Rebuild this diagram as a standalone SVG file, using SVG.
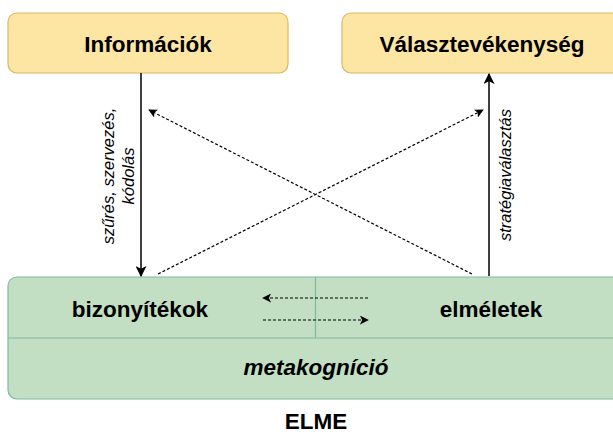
<svg xmlns="http://www.w3.org/2000/svg" width="613" height="434" viewBox="0 0 613 434">
<defs>
<style>
.yb{fill:#fde6a3;stroke:#deb65e;stroke-width:1.2}
.gb{fill:#c3dfc3;stroke:#7fb9a2;stroke-width:1.2}
.t{font-family:"Liberation Sans",Arial,sans-serif;font-weight:bold;font-size:22.5px;fill:#000;text-anchor:middle}
.i{font-family:"Liberation Sans",Arial,sans-serif;font-style:italic;font-size:16.5px;fill:#000;text-anchor:middle}
.s{stroke:#000;stroke-width:1.5;fill:none}
.d{stroke:#000;stroke-width:1.2;fill:none;stroke-dasharray:3 2}
</style>
<marker id="ah" viewBox="0 0 10 10" refX="9" refY="5" markerWidth="9" markerHeight="9" markerUnits="userSpaceOnUse" orient="auto"><path d="M0,0 L10,5 L0,10 L2.5,5 Z" fill="#000"/></marker>
<marker id="ah2" viewBox="0 0 10 10" refX="9" refY="5" markerWidth="11" markerHeight="11" markerUnits="userSpaceOnUse" orient="auto"><path d="M0,0 L10,5 L0,10 L2.5,5 Z" fill="#000"/></marker>
</defs>
<g id="informaciok">
<rect class="yb" x="8" y="13" width="280" height="60" rx="9"/>
<text class="t" x="148" y="52">Információk</text>
</g>
<g id="valasztevekenyseg">
<rect class="yb" x="342" y="13" width="290" height="60" rx="9"/>
<text class="t" x="482" y="52">Választevékenység</text>
</g>
<g id="elme">
<rect class="gb" x="8" y="277" width="624" height="122" rx="9"/>
<line class="gb" x1="8" y1="338" x2="632" y2="338"/>
<line class="gb" x1="315.5" y1="277" x2="315.5" y2="338"/>
<text class="t" x="140" y="317">bizonyítékok</text>
<text class="t" x="491" y="317">elméletek</text>
<text class="t" x="316" y="375" font-style="italic">metakogníció</text>
<text class="t" x="316" y="429">ELME</text>
</g>
<g id="connectors">
<line class="s" x1="141" y1="73" x2="141" y2="276" marker-end="url(#ah2)"/>
<line class="s" x1="489" y1="276" x2="489" y2="74" marker-end="url(#ah2)"/>
<line class="d" x1="158" y1="274" x2="483" y2="110" marker-end="url(#ah)"/>
<line class="d" x1="472" y1="274" x2="149" y2="110" marker-end="url(#ah)"/>
<line class="d" x1="368" y1="298" x2="263" y2="298" marker-end="url(#ah)"/>
<line class="d" x1="263" y1="320" x2="368" y2="320" marker-end="url(#ah)"/>
<text class="i" transform="translate(114,176) rotate(-90)">szűrés, szervezés,</text>
<text class="i" transform="translate(134,176) rotate(-90)">kódolás</text>
<text class="i" transform="translate(511,175) rotate(-90)">stratégiaválasztás</text>
</g>
</svg>
